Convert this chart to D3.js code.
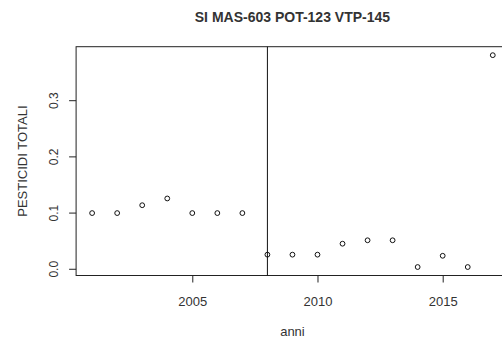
<!DOCTYPE html>
<html>
<head>
<meta charset="utf-8">
<script src="https://cdn.jsdelivr.net/npm/d3@7"></script>
<style>
  body { margin: 0; background: #fff; }
  svg { display: block; font-family: "Liberation Sans", Arial, sans-serif; }
</style>
</head>
<body>
<div id="chart"></div>
<script>
// data
var anni = [2001, 2002, 2003, 2004, 2005, 2006, 2007, 2008, 2009, 2010, 2011, 2012, 2013, 2014, 2015, 2016, 2017];
var pesticidi = [0.1, 0.1, 0.114, 0.126, 0.1, 0.1, 0.1, 0.026, 0.026, 0.026, 0.0455, 0.0516, 0.0516, 0.004, 0.024, 0.004, 0.381];
var xTicks = [2005, 2010, 2015];
var yTicks = [0.0, 0.1, 0.2, 0.3];
var lineaAnno = 2008;

var W = 502, H = 341;
var svg = d3.select("#chart").append("svg")
    .attr("width", W)
    .attr("height", H);

// R-style 4% domain extension
var xr = d3.extent(anni), yr = d3.extent(pesticidi);
var xe = (xr[1] - xr[0]) * 0.04, ye = (yr[1] - yr[0]) * 0.04;
var x = d3.scaleLinear().domain([xr[0] - xe, xr[1] + xe]).range([76.1, 508.8]);
var y = d3.scaleLinear().domain([yr[0] - ye, yr[1] + ye]).range([275.5, 46.7]);

var textCol = "#333";

// title
svg.append("text")
    .attr("x", (x.range()[0] + x.range()[1]) / 2)
    .attr("y", 22)
    .attr("text-anchor", "middle")
    .style("font-size", "14px")
    .style("font-weight", "bold")
    .style("fill", textCol)
    .text("SI MAS-603 POT-123 VTP-145");

// plot box
svg.append("rect")
    .attr("x", x.range()[0])
    .attr("y", y.range()[1])
    .attr("width", x.range()[1] - x.range()[0])
    .attr("height", y.range()[0] - y.range()[1])
    .style("fill", "none")
    .style("stroke", "#222")
    .style("stroke-width", 1);

// vertical line
svg.append("line")
    .attr("x1", x(lineaAnno)).attr("x2", x(lineaAnno))
    .attr("y1", y.range()[1]).attr("y2", y.range()[0])
    .style("stroke", "#111")
    .style("stroke-width", 1);

// x axis
var xAxis = svg.append("g")
    .attr("transform", "translate(0," + y.range()[0] + ")")
    .call(d3.axisBottom(x).tickValues(xTicks).tickSize(7).tickFormat(d3.format("d")));
xAxis.select(".domain").remove();
xAxis.selectAll("line").style("stroke", "#222");
xAxis.selectAll("text")
    .attr("dy", null)
    .attr("y", 30)
    .style("font-size", "13px").style("fill", textCol).style("font-family", "Liberation Sans, Arial, sans-serif");

// y axis
var yAxis = svg.append("g")
    .attr("transform", "translate(" + x.range()[0] + ",0)")
    .call(d3.axisLeft(y).tickValues(yTicks).tickSize(7).tickFormat(d3.format(".1f")));
yAxis.select(".domain").remove();
yAxis.selectAll("line").style("stroke", "#222");
yAxis.selectAll(".tick").attr("transform", null);
yAxis.selectAll(".tick line").attr("transform", function (d) { return "translate(0," + y(d) + ")"; });
yAxis.selectAll("text")
    .attr("x", 0).attr("y", 0).attr("dy", null)
    .attr("text-anchor", "middle")
    .attr("transform", function (d) { return "translate(-18.6," + y(d) + ") rotate(-90)"; })
    .style("font-size", "12px").style("fill", textCol).style("font-family", "Liberation Sans, Arial, sans-serif");

// axis titles
svg.append("text")
    .attr("x", (x.range()[0] + x.range()[1]) / 2)
    .attr("y", 336)
    .attr("text-anchor", "middle")
    .style("font-size", "13px")
    .style("fill", textCol)
    .text("anni");

svg.append("text")
    .attr("transform", "translate(27," + ((y.range()[0] + y.range()[1]) / 2) + ") rotate(-90)")
    .attr("text-anchor", "middle")
    .style("font-size", "13px")
    .style("fill", textCol)
    .text("PESTICIDI TOTALI");

// points
svg.selectAll("circle.pt")
    .data(anni)
    .enter().append("circle")
    .attr("class", "pt")
    .attr("cx", function (d) { return x(d); })
    .attr("cy", function (d, i) { return y(pesticidi[i]); })
    .attr("r", 2.4)
    .style("fill", "none")
    .style("stroke", "#111")
    .style("stroke-width", 1);
</script>
</body>
</html>
